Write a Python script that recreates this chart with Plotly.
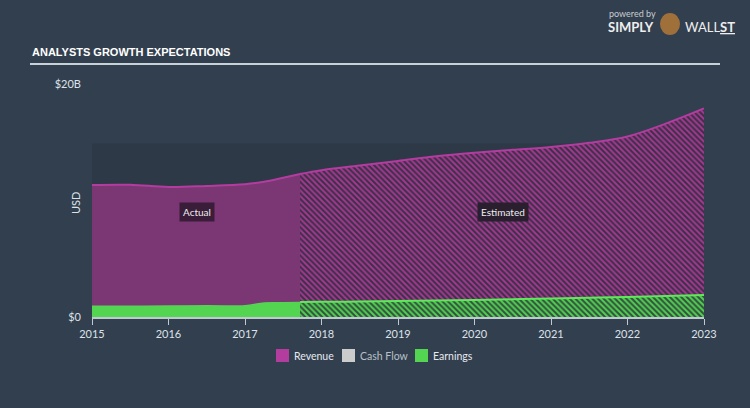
import plotly.graph_objects as go

# ---------------- data ----------------
years_actual = [2015.0, 2015.5, 2016.0, 2016.5, 2017.0, 2017.25, 2017.5, 2017.72]
revenue_actual = [11.33, 11.35, 11.16, 11.25, 11.4, 11.6, 11.95, 12.27]
earnings_actual = [0.92, 0.93, 0.94, 0.96, 0.97, 1.2, 1.22, 1.25]

years_est = [2017.72, 2018.0, 2018.5, 2019.0, 2019.5, 2020.0, 2020.5, 2021.0, 2021.5, 2022.0, 2022.5, 2023.0]
revenue_est = [12.27, 12.6, 13.0, 13.4, 13.8, 14.1, 14.35, 14.6, 14.95, 15.5, 16.6, 17.9]
earnings_est = [1.29, 1.3, 1.33, 1.37, 1.42, 1.46, 1.52, 1.58, 1.65, 1.72, 1.8, 1.89]

tick_years = [2015, 2016, 2017, 2018, 2019, 2020, 2021, 2022, 2023]
tick_labels = ["2015", "2016", "2017", "2018", "2019", "2020", "2021", "2022", "2023"]
y_ticks = [0, 20]
y_tick_labels = ["$0", "$20B"]
legend_names = ["Revenue", "Cash Flow", "Earnings"]

# ---------------- style ----------------
BG = "#323f4f"
BAND = "#2d3947"
REV_FILL = "#7b3674"
REV_LINE = "#b33c9f"
REV_HATCH = "#a3388f"
EARN_FILL = "#53d552"
EARN_LINE = "#5ee85a"
EARN_HATCH = "#52d051"
CASH = "#cccccc"
TXT = "#dde2e8"

# plot-area pixel geometry helpers (plot area: x 92..704, y 84..317)
L, R, T, B = 92, 46, 84, 91
PW, PH = 750 - L - R, 408 - T - B


def px(x):
    return (x - L) / PW


def py(y):
    return (408 - B - y) / PH


fig = go.Figure()

# Revenue actual
fig.add_trace(go.Scatter(x=years_actual, y=revenue_actual, mode="lines",
                         line=dict(color=REV_LINE, width=2, shape="spline"),
                         fill="tozeroy", fillcolor=REV_FILL, showlegend=False,
                         hoverinfo="skip"))
# Revenue estimated (hatched)
fig.add_trace(go.Scatter(x=years_est, y=revenue_est, mode="lines",
                         line=dict(color=REV_LINE, width=2, shape="spline"),
                         fill="tozeroy",
                         fillpattern=dict(shape="\\", fgcolor=REV_HATCH, bgcolor="#3b3048",
                                          size=4, solidity=0.5, fillmode="replace"),
                         showlegend=False, hoverinfo="skip"))
# Earnings actual
fig.add_trace(go.Scatter(x=years_actual, y=earnings_actual, mode="lines",
                         line=dict(color=EARN_FILL, width=1.5, shape="spline"),
                         fill="tozeroy", fillcolor=EARN_FILL, showlegend=False,
                         hoverinfo="skip"))
# Earnings estimated (hatched)
fig.add_trace(go.Scatter(x=years_est, y=earnings_est, mode="lines",
                         line=dict(color=EARN_LINE, width=2, shape="spline"),
                         fill="tozeroy",
                         fillpattern=dict(shape="\\", fgcolor=EARN_HATCH, bgcolor="#33503f",
                                          size=4, solidity=0.5, fillmode="replace"),
                         showlegend=False, hoverinfo="skip"))

shapes = [
    dict(type="rect", xref="x", yref="y", x0=2015, x1=2023, y0=0, y1=14.9,
         fillcolor=BAND, line=dict(width=0), layer="below"),
    dict(type="line", xref="paper", yref="paper", x0=px(30), x1=px(720),
         y0=py(64), y1=py(64), line=dict(color="#c8d0d8", width=2)),
    dict(type="circle", xref="paper", yref="paper",
         x0=px(660), x1=px(680), y0=py(35), y1=py(13),
         fillcolor="#a0703a", line=dict(width=0)),
]

annotations = [
    dict(text="ANALYSTS GROWTH EXPECTATIONS", xref="paper", yref="paper",
         x=px(30), y=py(52), xanchor="left", yanchor="middle", showarrow=False,
         font=dict(family="Liberation Sans Narrow, Liberation Sans, sans-serif",
                   size=11, color="#ffffff", weight="bold")),
    dict(text="USD", xref="paper", yref="paper", x=px(75), y=py(203),
         textangle=-90, showarrow=False, xanchor="center", yanchor="middle",
         font=dict(size=11, color=TXT)),
    dict(text="Actual", xref="x", yref="y", x=2016.37, y=9.0, showarrow=False,
         bgcolor="#3a1d38", font=dict(size=10, color="#eeeeee"), borderpad=3),
    dict(text="Estimated", xref="x", yref="y", x=2020.37, y=9.0, showarrow=False,
         bgcolor="#2a1f2e", font=dict(size=10, color="#eeeeee"), borderpad=3),
    dict(text="powered by", xref="paper", yref="paper", x=px(607), y=py(14),
         xanchor="left", yanchor="middle", showarrow=False,
         font=dict(size=9, color="#c8ccd0")),
    dict(text="<b>SIMPLY</b>", xref="paper", yref="paper", x=px(606), y=py(27),
         xanchor="left", yanchor="middle", showarrow=False,
         font=dict(size=13, color="#eeeeee")),
    dict(text="WALL<u><b>ST</b></u>", xref="paper", yref="paper", x=px(683), y=py(27),
         xanchor="left", yanchor="middle", showarrow=False,
         font=dict(size=13, color="#eeeeee")),
]

# custom legend (swatch + label)
legend_colors = [REV_LINE, CASH, EARN_FILL]
legend_text_colors = ["#e6e9ee", "#b8c0c8", "#e6e9ee"]
legend_x = [276, 342, 415]
for name, col, tcol, lx in zip(legend_names, legend_colors, legend_text_colors, legend_x):
    shapes.append(dict(type="rect", xref="paper", yref="paper",
                       x0=px(lx), x1=px(lx + 13), y0=py(362), y1=py(349),
                       fillcolor=col, line=dict(width=0)))
    annotations.append(dict(text=name, xref="paper", yref="paper", x=px(lx + 16), y=py(356),
                            xanchor="left", yanchor="middle", showarrow=False,
                            font=dict(size=10.5, color=tcol)))

fig.update_layout(
    width=750, height=408,
    paper_bgcolor=BG, plot_bgcolor=BG,
    margin=dict(l=L, r=R, t=T, b=B),
    font=dict(family="Lato, Open Sans, sans-serif", color=TXT, size=11),
    showlegend=False,
    xaxis=dict(range=[2015, 2023], tickvals=tick_years, ticktext=tick_labels,
               showgrid=False, zeroline=False, showline=True, linecolor="#c0c8d2",
               linewidth=1.5, ticks="outside", ticklen=6, tickcolor="#c0c8d2",
               tickfont=dict(size=11, color=TXT)),
    yaxis=dict(range=[0, 20], tickvals=y_ticks, ticktext=y_tick_labels,
               showgrid=False, zeroline=False, showline=False, ticks="",
               ticklabelstandoff=10, tickfont=dict(size=11, color=TXT)),
    shapes=shapes,
    annotations=annotations,
)

fig.write_html("out.html")
